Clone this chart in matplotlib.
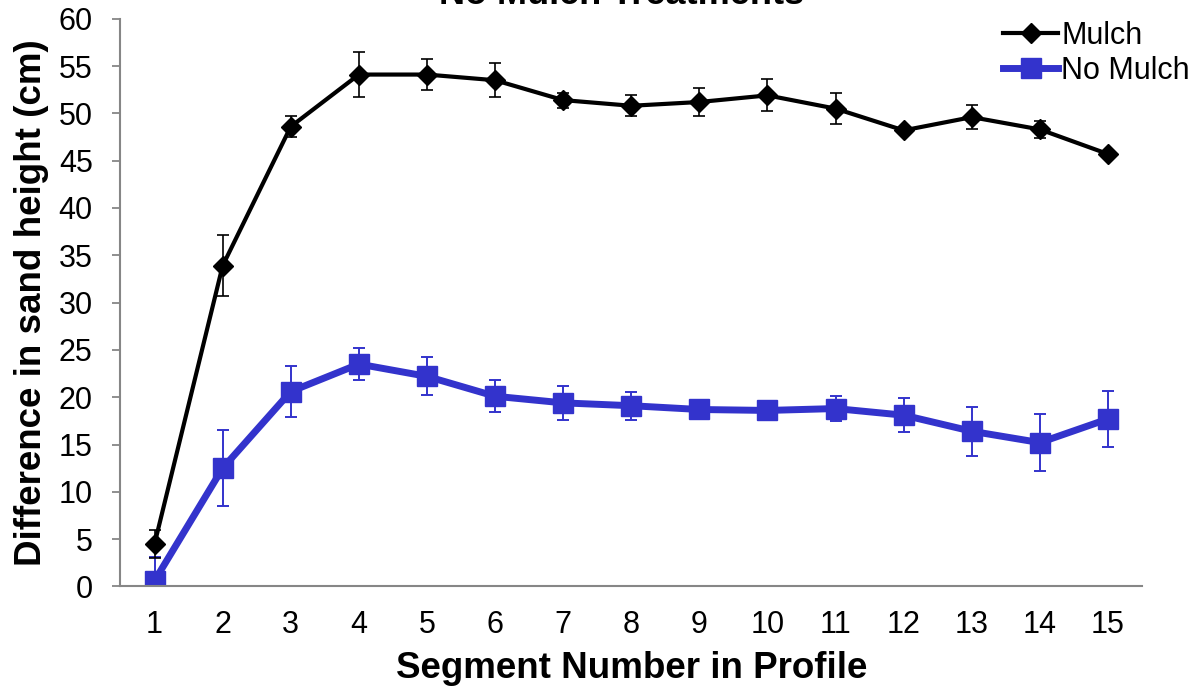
import matplotlib
matplotlib.use("Agg")
from matplotlib import pyplot as plt

# data
segments = list(range(1, 16))
mulch = [4.5, 33.9, 48.6, 54.1, 54.1, 53.5, 51.4, 50.8, 51.2, 51.9, 50.5, 48.2, 49.6, 48.3, 45.7]
mulch_err = [1.5, 3.2, 1.1, 2.4, 1.6, 1.8, 0.8, 1.1, 1.5, 1.7, 1.6, 0.4, 1.3, 0.9, 0.3]
no_mulch = [0.6, 12.5, 20.6, 23.5, 22.2, 20.1, 19.4, 19.1, 18.7, 18.6, 18.8, 18.1, 16.4, 15.2, 17.7]
no_mulch_err = [2.5, 4.0, 2.7, 1.7, 2.0, 1.7, 1.8, 1.5, 0.9, 0.4, 1.3, 1.8, 2.6, 3.0, 3.0]

plt.rcParams['font.family'] = ['Liberation Sans', 'DejaVu Sans']

fig = plt.figure(figsize=(11.99, 6.94), dpi=100, facecolor='w')
ax = fig.add_axes([0.1005, 0.155, 0.852, 0.818])

blue = '#3333CC'
# error bars first, then the lines with markers on top
ax.errorbar(segments, mulch, yerr=mulch_err, fmt='none', ecolor='black',
            elinewidth=1.2, capsize=4, capthick=1.2, zorder=3)
ax.errorbar(segments, no_mulch, yerr=no_mulch_err, fmt='none', ecolor=blue,
            elinewidth=1.4, capsize=4.5, capthick=1.4, zorder=2)
ax.plot(segments, mulch, color='black', lw=3, marker='D', ms=10, label='Mulch', zorder=4)
ax.plot(segments, no_mulch, color=blue, lw=5, marker='s', ms=14.5, label='No Mulch', zorder=2)

ax.set_xlim(0.5, 15.5)
ax.set_ylim(0, 60)
ax.set_yticks(range(0, 61, 5))
ax.set_xticks(segments)
ax.tick_params(axis='y', labelsize=22, length=6, width=1.3, color='#868686', pad=14)
ax.tick_params(axis='x', labelsize=22, length=0, pad=17)

for s in ['top', 'right']:
    ax.spines[s].set_visible(False)
for s in ['left', 'bottom']:
    ax.spines[s].set_color('#868686')
    ax.spines[s].set_linewidth(1.5)

ax.set_xlabel('Segment Number in Profile', fontsize=26.5, fontweight='bold', labelpad=8)
ax.set_ylabel('Difference in sand height (cm)', fontsize=26.5, fontweight='bold', labelpad=7)

fig.text(0.518, 1 - 4 / 694, 'No Mulch Treatments', fontsize=26, fontweight='bold',
         ha='center', va='baseline')

ax.legend(loc='upper left', bbox_to_anchor=(1003 / 1199, 1 - 21 / 694),
          bbox_transform=fig.transFigure, frameon=False, fontsize=22,
          handlelength=1.8, handletextpad=0.1, labelspacing=0.15,
          borderaxespad=0, borderpad=0)

plt.savefig('out.png', dpi=100)
